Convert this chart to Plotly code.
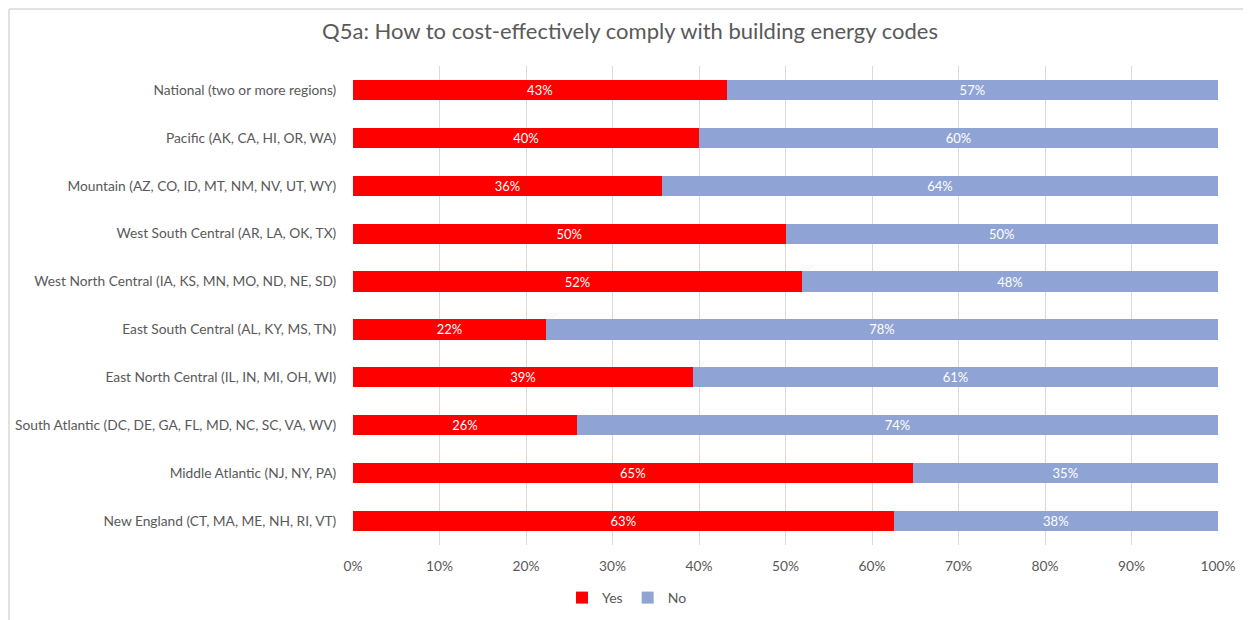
import plotly.graph_objects as go

categories = [
    "National (two or more regions)",
    "Pacific (AK, CA, HI, OR, WA)",
    "Mountain (AZ, CO, ID, MT, NM, NV, UT, WY)",
    "West South Central (AR, LA, OK, TX)",
    "West North Central (IA, KS, MN, MO, ND, NE, SD)",
    "East South Central (AL, KY, MS, TN)",
    "East North Central (IL, IN, MI, OH, WI)",
    "South Atlantic (DC, DE, GA, FL, MD, NC, SC, VA, WV)",
    "Middle Atlantic (NJ, NY, PA)",
    "New England (CT, MA, ME, NH, RI, VT)",
]
yes_vals = [43.2, 40.0, 35.7, 50.0, 51.9, 22.3, 39.3, 25.9, 64.7, 62.5]
no_vals = [56.8, 60.0, 64.3, 50.0, 48.1, 77.7, 60.7, 74.1, 35.3, 37.5]
tick_vals = [0, 10, 20, 30, 40, 50, 60, 70, 80, 90, 100]
tick_text = ["0%", "10%", "20%", "30%", "40%", "50%", "60%", "70%", "80%", "90%", "100%"]

FONT = "Lato"
GREY = "#595959"

# page body has an 8px margin (left/top), so work in shifted coordinates
OFF = 8
W, H = 1251 - OFF, 620 - OFF
L, T = 353 - OFF, 66 - OFF
R = W - (1218 - OFF)
B = H - (545 - OFF)
pw = W - L - R
ph = H - T - B

def px(xv):  # absolute screen x -> paper x
    return (xv - 353) / pw

def py(yv):  # absolute screen y -> paper y
    return (545 - yv) / ph

fig = go.Figure()
for name, vals, col in [("Yes", yes_vals, "#FF0000"), ("No", no_vals, "#8FA4D5")]:
    fig.add_trace(go.Bar(
        y=categories, x=vals, name=name, orientation="h",
        marker=dict(color=col, line=dict(width=0)),
        texttemplate="%{x:.0f}%", textposition="inside", insidetextanchor="middle",
        constraintext="none",
        textfont=dict(color="white", size=13, family=FONT),
    ))

fig.update_layout(
    width=W, height=H,
    barmode="stack", bargap=0.58,
    margin=dict(l=L, r=R, t=T, b=B, autoexpand=False),
    paper_bgcolor="white", plot_bgcolor="white",
    font=dict(family=FONT, color=GREY, size=14),
    title=dict(text="Q5a: How to cost-effectively comply with building energy codes",
               x=(630 - OFF) / W, xanchor="center", y=1 - (31 - OFF) / H, yanchor="middle",
               font=dict(size=22, color=GREY, family=FONT)),
    xaxis=dict(range=[0, 100], tickvals=tick_vals, ticktext=tick_text,
               showgrid=True, gridcolor="#D9D9D9", gridwidth=1,
               zeroline=False, showline=False, ticks="outside", ticklen=8,
               tickcolor="rgba(0,0,0,0)", automargin=False,
               tickfont=dict(size=13.75, color=GREY), fixedrange=True),
    yaxis=dict(autorange="reversed", showgrid=False, showline=False, ticks="outside",
               ticklen=13, tickcolor="rgba(0,0,0,0)", automargin=False,
               tickfont=dict(size=13.75, color=GREY), fixedrange=True),
    legend=dict(orientation="h", x=px(627), xanchor="center",
                y=py(598), yanchor="middle",
                font=dict(size=14, color=GREY), traceorder="normal",
                itemwidth=30),
    showlegend=True,
)

# chart frame: only top and left edges visible in the reference
fig.add_shape(type="line", xref="paper", yref="paper",
              x0=px(9), x1=px(1260), y0=py(9), y1=py(9),
              line=dict(color="#D9D9D9", width=1.5))
fig.add_shape(type="line", xref="paper", yref="paper",
              x0=px(9), x1=px(9), y0=py(9), y1=py(630),
              line=dict(color="#D9D9D9", width=1.5))

fig.write_html("out.html")
